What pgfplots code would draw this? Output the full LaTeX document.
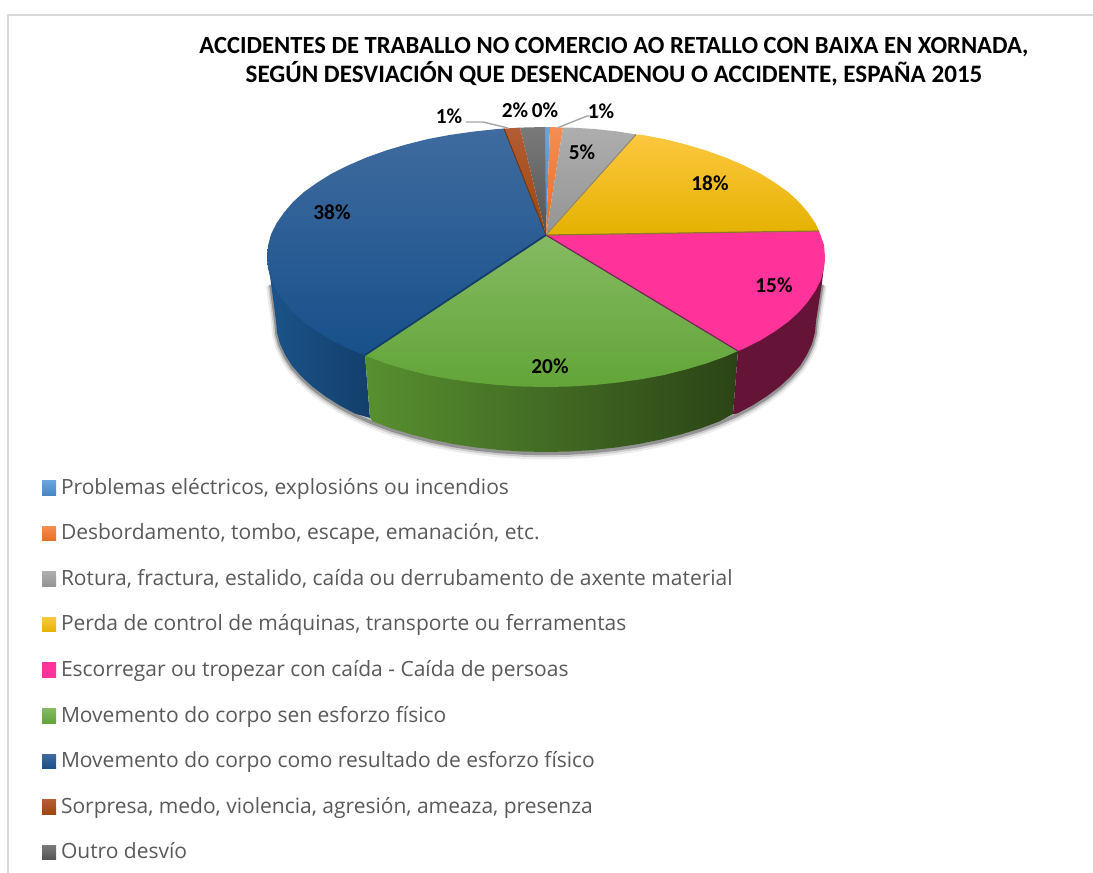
\documentclass[border=0pt]{standalone}
\usepackage{pgfplots}
\usepackage{pgfplotstable}
\usepackage{fontspec}
\pgfplotsset{compat=1.18}
\setmainfont{Open Sans}
\newfontfamily\carl{Carlito}
\definecolor{blA}{HTML}{3F6B9F}\definecolor{blM}{HTML}{205C98}\definecolor{blB}{HTML}{17508A}
\definecolor{grA}{HTML}{85BA62}\definecolor{grM}{HTML}{6CAC40}\definecolor{grB}{HTML}{62A538}
\definecolor{yeA}{HTML}{FDC73F}\definecolor{yeM}{HTML}{FDC000}\definecolor{yeB}{HTML}{E4B200}
\definecolor{pk}{HTML}{FF3399}
\definecolor{leg}{HTML}{595959}
\pgfplotstableread{
x y
271 283
276 321
277 332.4
280 343.7
285.2 354.9
292 365.8
301.4 376.4
312.2 386.5
325 396.1
339.2 405.2
355 413.6
372.4 421.3
391 428.3
411 434.4
432 439.7
453.7 444.1
476 447.5
499 450
522.5 451.5
546 452
569.5 451.5
593 450
616 447.5
638.3 444.1
660 439.7
681 434.4
701 428.3
719.6 421.3
737 413.6
752.8 405.2
767 396.1
779.8 386.5
790.6 376.4
800 365.8
806.8 354.9
812 343.7
815 332.4
816 321
822 283
}\rimtable
\begin{document}
\begin{tikzpicture}
\begin{axis}[
  scale only axis, width=1093pt, height=873pt,
  xmin=0, xmax=1093, ymin=0, ymax=873, y dir=reverse,
  hide axis,
  legend cell align=left,
  legend image code/.code={\path[#1] (0pt,-1pt) rectangle (14pt,13.5pt);},
  legend style={at={(axis cs:42,462.4)}, anchor=north west, draw=none, fill=none,
    inner sep=0pt, outer sep=0pt, row sep=0pt, column sep=5pt,
    font=\fontsize{21}{24}\selectfont, text=leg,
    nodes={inner sep=0pt, outer sep=0pt, text height=31.6pt, text depth=14pt, anchor=base west}},
]
% page extent
\addplot[forget plot, draw=none, mark=none] coordinates {(0,0)(1093,873)};
% frame
\addplot[forget plot, draw=black!15, line width=2pt, mark=none] coordinates {(8,873)(8,15)(1093,15)};
% shadow
\addplot[forget plot, draw=black, opacity=.07, line width=10pt, mark=none, line join=round] table[x=x, y expr=\thisrow{y}+2.5] {\rimtable};
\addplot[forget plot, draw=black, opacity=.14, line width=6.5pt, mark=none, line join=round] table[x=x, y expr=\thisrow{y}+2] {\rimtable};
\addplot[forget plot, draw=black, opacity=.28, line width=3.5pt, mark=none, line join=round] table[x=x, y expr=\thisrow{y}+1.5] {\rimtable};
% sides
\addplot[forget plot, draw=none, mark=none, left color={rgb,255:red,27;green,84;blue,138}, right color={rgb,255:red,19;green,63;blue,107}] coordinates {
(365,355)(370,418)(355,413.6)(339.2,405.2)(325,396.1)(312.2,386.5)(301.4,376.4)(292,365.8)(285.2,354.9)(280,343.7)(277,332.4)(276,321)(271,283)(267,257)(365,300)};
\addplot[forget plot, draw=none, mark=none, left color={rgb,255:red,88;green,144;blue,48}, middle color={rgb,255:red,56;green,88;blue,27}, right color={rgb,255:red,43;green,68;blue,22}] coordinates {
(365,355)(370,418)(372.4,421.3)(391,428.3)(411,434.4)(432,439.7)(453.7,444.1)(476,447.5)(499,450)(522.5,451.5)(546,452)(569.5,451.5)(593,450)(616,447.5)(638.3,444.1)(660,439.7)(681,434.4)(701,428.3)(719.6,421.3)(733,414)(738,351)};
\addplot[forget plot, draw=none, mark=none, fill={rgb,255:red,101;green,20;blue,56}] coordinates {
(738,351)(733,414)(737,413.6)(752.8,405.2)(767,396.1)(779.8,386.5)(790.6,376.4)(800,365.8)(806.8,354.9)(812,343.7)(815,332.4)(816,321)(822,283)(825,257)(760,300)};
% top surfaces, in legend order
\addplot[draw=none, mark=none, top color={rgb,255:red,104;green,166;blue,224}, bottom color={rgb,255:red,70;green,134;blue,196}] coordinates {(546,235)(545,127)(550,127)};
\addlegendentry{Problemas eléctricos, explosións ou incendios}
\addplot[draw=none, mark=none, top color={rgb,255:red,244;green,142;blue,84}, bottom color={rgb,255:red,232;green,110;blue,32}] coordinates {(546,235)(550,127)(563,127.6)};
\addlegendentry{Desbordamento, tombo, escape, emanación, etc.}
\addplot[draw=none, mark=none, top color={rgb,255:red,174;green,174;blue,174}, bottom color={rgb,255:red,148;green,148;blue,148}] coordinates {(546,235)(563,127.6)(570,127.5)(594.5,129)(618,131.5)(636,134.5)};
\addlegendentry{Rotura, fractura, estalido, caída ou derrubamento de axente material}
\addplot[draw=none, mark=none, top color=yeA, middle color=yeM, bottom color=yeB] coordinates {(546,235)(636,134.5)(641.4,134.8)(664,139)(685.5,144.4)(706,150.5)(725.3,157.4)(743,165)(760,173.4)(774.5,182.4)(788,192)(799,202)(808,212.5)(815.5,223.4)(819,231)};
\addlegendentry{Perda de control de máquinas, transporte ou ferramentas}
\addplot[draw=none, mark=none, top color=pk, bottom color=pk] coordinates {(546,235)(819,231)(824,245)(825,257)(824,268.3)(821,279.6)(815.5,290.6)(808,301.5)(799,312)(788,322)(774.5,331.6)(760,340.6)(743,349)(738,351)};
\addlegendentry{Escorregar ou tropezar con caída - Caída de persoas}
\addplot[draw=none, mark=none, top color=grA, middle color=grM, bottom color=grB] coordinates {(546,235)(738,351)(725.3,356.6)(706,363.5)(685.5,369.6)(664,375)(641.4,379.2)(618,382.5)(594.5,385)(570,386.5)(546,387)(522,386.5)(497.5,385)(474,382.5)(450.6,379.2)(428,375)(406.5,369.6)(386,363.5)(365,355.5)};
\addlegendentry{Movemento do corpo sen esforzo físico}
\addplot[draw=none, mark=none, top color=blA, middle color=blM, bottom color=blB] coordinates {(546,235)(365,355.5)(349,349)(332,340.6)(317.5,331.6)(304,322)(293,312)(284,301.5)(276.5,290.6)(271,279.6)(268,268.3)(267,257)(268,245.7)(271,234.4)(276.5,223.4)(284,212.5)(293,202)(304,192)(317.5,182.4)(332,173.4)(349,165)(366.7,157.4)(386,150.5)(406.5,144.4)(428,139)(450.6,134.8)(474,131.5)(497.5,129)(504,128.6)};
\addlegendentry{Movemento do corpo como resultado de esforzo físico}
\addplot[draw=none, mark=none, top color={rgb,255:red,180;green,92;blue,52}, bottom color={rgb,255:red,158;green,70;blue,12}] coordinates {(546,235)(504,128.6)(520,127.6)};
\addlegendentry{Sorpresa, medo, violencia, agresión, ameaza, presenza}
\addplot[draw=none, mark=none, top color={rgb,255:red,122;green,122;blue,122}, bottom color={rgb,255:red,84;green,84;blue,84}] coordinates {(546,235)(520,127.6)(545,127)};
\addlegendentry{Outro desvío}
% edges
\addplot[forget plot, draw={rgb,255:red,20;green,62;blue,104}, line width=1.8pt, mark=none] coordinates {(546,235)(365,355)};
\addplot[forget plot, draw={rgb,255:red,115;green,40;blue,85}, line width=1.2pt, mark=none] coordinates {(546,235)(738,351)};
\addplot[forget plot, draw={rgb,255:red,140;green,120;blue,40}, line width=1.2pt, mark=none] coordinates {(548,235)(819,231)};
\addplot[forget plot, draw={rgb,255:red,140;green,135;blue,110}, line width=1pt, mark=none] coordinates {(546,235)(636,134.5)};
\addplot[forget plot, draw={rgb,255:red,110;green,55;blue,20}, line width=1pt, mark=none] coordinates {(546,235)(504,128.6)};
% leaders
\addplot[forget plot, draw={rgb,255:red,166;green,166;blue,166}, line width=1.4pt, mark=none] coordinates {(466,122)(483,122)(508,128)};
\addplot[forget plot, draw={rgb,255:red,166;green,166;blue,166}, line width=1.4pt, mark=none] coordinates {(599,116)(587,116)(557,128)};
% title
\node[font=\carl\bfseries\fontsize{24.6}{29}\selectfont, align=center, inner sep=0pt] at (axis cs:614,61.5)
 {ACCIDENTES DE TRABALLO NO COMERCIO AO RETALLO CON BAIXA EN XORNADA,\\\fontsize{25.1}{29}\selectfont SEGÚN DESVIACIÓN QUE DESENCADENOU O ACCIDENTE, ESPAÑA 2015};
% data labels
\begin{scope}[every node/.style={font=\carl\bfseries\fontsize{21.3}{22}\selectfont, inner sep=0pt}]
\node at (axis cs:332,212) {38\%};
\node at (axis cs:550,366) {20\%};
\node at (axis cs:774,285) {15\%};
\node at (axis cs:710,183) {18\%};
\node at (axis cs:582,152) {5\%};
\node at (axis cs:601,111) {1\%};
\node at (axis cs:545,110) {0\%};
\node at (axis cs:515,110) {2\%};
\node at (axis cs:449,116) {1\%};
\end{scope}
\end{axis}
\end{tikzpicture}
\end{document}
